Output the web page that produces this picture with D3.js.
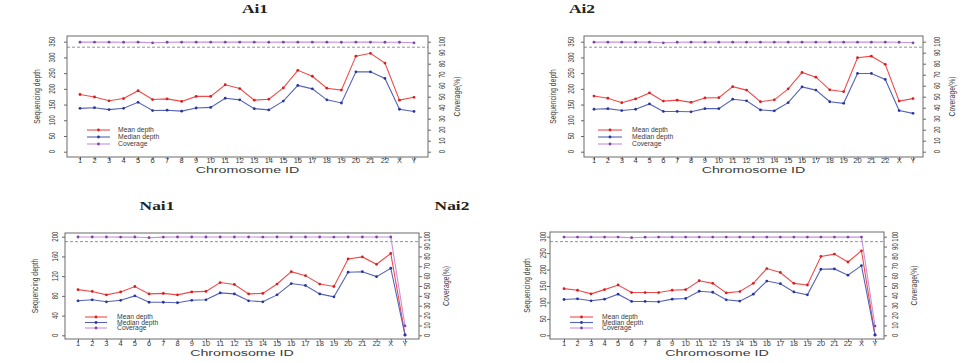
<!DOCTYPE html>
<html>
<head>
<meta charset="utf-8">
<script src="https://cdn.jsdelivr.net/npm/d3@7"></script>
<style>
body{margin:0;background:#fff;}
svg{display:block;}
text{font-family:"Liberation Sans",Arial,sans-serif;fill:#3a3a3a;}
.ttl{font-family:"Liberation Serif","Times New Roman",serif;font-weight:bold;fill:#222;}
</style>
</head>
<body>
<svg width="974" height="363"></svg>
<script>
const WIDTH = 974;
const HEIGHT = 363;

// chromosome ids on the x axis
var chromosomes = ['1','2','3','4','5','6','7','8','9','10','11','12','13','14','15','16','17','18','19','20','21','22','X','Y'];

// Ai1
var ai1Mean   = [182,174,162,169,194,166,168,160,176,176,213,201,164,167,203,259,240,202,196,304,313,282,164,173];
var ai1Median = [138,140,134,138,157,131,132,129,139,141,170,165,137,133,161,211,200,165,155,254,254,233,135,128];
var ai1Cov    = [99.6,99.6,99.6,99.5,99.6,99.0,99.5,99.6,99.6,99.6,99.6,99.6,99.6,99.5,99.6,99.6,99.6,99.6,99.5,99.6,99.6,99.5,99.5,99.0];
// Ai2
var ai2Mean   = [177,170,156,168,187,161,164,157,171,172,207,196,159,165,200,252,237,197,191,299,304,278,161,169];
var ai2Median = [135,137,131,135,152,128,128,127,137,137,167,162,133,130,156,206,196,159,154,249,249,230,131,122];
var ai2Cov    = [99.6,99.6,99.6,99.6,99.6,99.0,99.5,99.6,99.6,99.6,99.6,99.6,99.6,99.6,99.6,99.6,99.6,99.6,99.6,99.6,99.6,99.6,99.5,99.0];
// Nai1
var nai1Mean   = [92.6,89,82,88,99,84,85,82,88,89,107,103,84,85,104,129,121,104,99,155,159,144,166,1.2];
var nai1Median = [70,72,68,71,80,67,67,66,71,72,86,84,70,68,82,105,101,84,78,128,129,119,136,0.3];
var nai1Cov    = [99.7,99.7,99.7,99.6,99.7,99.0,99.6,99.7,99.7,99.7,99.7,99.7,99.7,99.6,99.7,99.7,99.7,99.7,99.6,99.7,99.7,99.7,99.7,9.5];
// Nai2
var nai2Mean   = [142,137,126,139,153,130,130,130,137,139,166,158,129,133,158,203,191,158,153,240,247,223,257,2];
var nai2Median = [109,111,105,110,125,103,103,102,110,112,134,131,108,104,125,165,157,132,123,201,202,183,212,0.3];
var nai2Cov    = [99.6,99.6,99.6,99.6,99.6,99.0,99.5,99.6,99.6,99.6,99.6,99.6,99.6,99.6,99.6,99.6,99.6,99.6,99.6,99.6,99.6,99.6,99.6,9.4];

var titles = ['Ai1','Ai2','Nai1','Nai2'];
var depthTicksAi = [0,50,100,150,200,250,300,350];
var depthTicksNai1 = [0,40,80,120,160,200];
var depthTicksNai2 = [0,50,100,150,200,250,300];
var coverageTicks = [0,10,20,30,40,50,60,70,80,90,100];
var coverageCutoff = 95;
var legendLabels = ['Mean depth','Median depth','Coverage'];

var colors = {
    mean:{line:'#f04a4a', dot:'#d42020'},
    median:{line:'#5563b8', dot:'#2a36a0'},
    cov:{line:'#c690dc', dot:'#7a46a6'}
};

// layout of each panel (pixel positions only)
var panels = [
    {title:titles[0], mean:ai1Mean, median:ai1Median, cov:ai1Cov, max:350, ticks:depthTicksAi,
     box:[67,36,428,157], xr:[80,414], yr:[151.7,41.7], tx:255, ty:13,
     lx:52, ylx:37, rx:442, yrx:457, xtY:163.3, xlY:172.7, leg:[87,110,118,130,7]},
    {title:titles[1], mean:ai2Mean, median:ai2Median, cov:ai2Cov, max:350, ticks:depthTicksAi,
     box:[584,36,923,157], xr:[594,913], yr:[151.7,41.7], tx:582, ty:13,
     lx:571, ylx:553, rx:937, yrx:952, xtY:163.3, xlY:172.7, leg:[598,622,632,130,7]},
    {title:titles[2], mean:nai1Mean, median:nai1Median, cov:nai1Cov, max:200, ticks:depthTicksNai1,
     box:[65,233,419,339], xr:[78,405], yr:[335.3,236.7], tx:157, ty:209.5,
     lx:55, ylx:35, rx:427, yrx:446, xtY:345.5, xlY:356, leg:[85,107,117,317,5.5]},
    {title:titles[3], mean:nai2Mean, median:nai2Median, cov:nai2Cov, max:300, ticks:depthTicksNai2,
     box:[550,232,884,339], xr:[564,875], yr:[335.3,236.7], tx:452, ty:209.5,
     lx:543, ylx:527, rx:895, yrx:914, xtY:345.5, xlY:356, leg:[570,593,602,317,5.5]}
];

var svg = d3.select('svg').style('width', WIDTH).style('height', HEIGHT);

// horizontal text stretched sideways
function hText(g, x, y, str, size, s, anchor){
    return g.append('text')
        .attr('transform', 'translate(' + x + ',' + y + ') scale(' + s + ',1)')
        .attr('text-anchor', anchor)
        .style('font-size', size + 'px')
        .text(str);
}
// rotated text, thicker across
function vText(g, x, y, str, size, s){
    return g.append('text')
        .attr('transform', 'translate(' + x + ',' + y + ') rotate(-90) scale(1,' + s + ')')
        .attr('text-anchor', 'middle')
        .attr('dy', '0.35em')
        .style('font-size', size + 'px')
        .text(str);
}

panels.forEach(function(p){
    var g = svg.append('g');
    var b = p.box;
    var x = d3.scalePoint().domain(chromosomes).range(p.xr);
    var yL = d3.scaleLinear().domain([0, p.max]).range(p.yr);
    var yR = d3.scaleLinear().domain([0, 100]).range(p.yr);

    // title
    hText(g, p.tx, p.ty, p.title, 12, 1.45, 'middle').attr('class', 'ttl');

    // cutoff line
    g.append('line')
        .attr('x1', b[0]).attr('x2', b[2])
        .attr('y1', yR(coverageCutoff)).attr('y2', yR(coverageCutoff))
        .attr('stroke', '#777').attr('stroke-width', 0.8)
        .attr('stroke-dasharray', '3,2');

    var series = [
        {vals:p.cov, y:yR, c:colors.cov},
        {vals:p.mean, y:yL, c:colors.mean},
        {vals:p.median, y:yL, c:colors.median}
    ];
    series.forEach(function(s){
        var line = d3.line()
            .x(function(d, i){ return x(chromosomes[i]); })
            .y(function(d){ return s.y(d); });
        g.append('path').datum(s.vals)
            .attr('d', line)
            .attr('fill', 'none')
            .attr('stroke', s.c.line)
            .attr('stroke-width', 1.1);
        g.selectAll(null).data(s.vals).enter().append('circle')
            .attr('cx', function(d, i){ return x(chromosomes[i]); })
            .attr('cy', function(d){ return s.y(d); })
            .attr('r', 1.4)
            .attr('fill', s.c.dot);
    });

    // box
    g.append('rect')
        .attr('x', b[0]).attr('y', b[1])
        .attr('width', b[2] - b[0]).attr('height', b[3] - b[1])
        .attr('fill', 'none').attr('stroke', '#6a6a6a').attr('stroke-width', 1);

    // left axis
    var la = g.append('g').attr('transform', 'translate(' + b[0] + ',0)')
        .call(d3.axisLeft(yL).tickValues(p.ticks).tickSize(3).tickFormat(d3.format('d')));
    la.select('.domain').remove();
    la.selectAll('line').attr('stroke', '#666');
    la.selectAll('text').remove();
    p.ticks.forEach(function(t){ vText(g, p.lx, yL(t), String(t), 6, 1.45); });

    // right axis
    var ra = g.append('g').attr('transform', 'translate(' + b[2] + ',0)')
        .call(d3.axisRight(yR).tickValues(coverageTicks).tickSize(3));
    ra.select('.domain').remove();
    ra.selectAll('line').attr('stroke', '#666');
    ra.selectAll('text').remove();
    coverageTicks.forEach(function(t){ vText(g, p.rx, yR(t), String(t), 6, 1.45); });

    // bottom axis
    var ba = g.append('g').attr('transform', 'translate(0,' + b[3] + ')')
        .call(d3.axisBottom(x).tickSize(3));
    ba.select('.domain').remove();
    ba.selectAll('line').attr('stroke', '#666');
    ba.selectAll('text').remove();
    chromosomes.forEach(function(c){ hText(g, x(c), p.xtY, c, 6.5, 1.15, 'middle'); });

    // axis titles
    hText(g, (b[0] + b[2]) / 2, p.xlY, 'Chromosome ID', 9.5, 1.5, 'middle');
    vText(g, p.ylx, (b[1] + b[3]) / 2, 'Sequencing depth', 6.8, 1.45);
    vText(g, p.yrx, (b[1] + b[3]) / 2, 'Coverage(%)', 6.8, 1.45);

    // legend
    var L = p.leg;
    var legendColors = [colors.mean, colors.median, colors.cov];
    legendLabels.forEach(function(lab, i){
        var yy = L[3] + i * L[4];
        g.append('line').attr('x1', L[0]).attr('x2', L[1]).attr('y1', yy).attr('y2', yy)
            .attr('stroke', legendColors[i].line).attr('stroke-width', 1.1);
        g.append('circle').attr('cx', (L[0] + L[1]) / 2).attr('cy', yy).attr('r', 1.4)
            .attr('fill', legendColors[i].dot);
        hText(g, L[2], yy + 2.2, lab, 6.3, 1.08, 'start');
    });
});
</script>
</body>
</html>
